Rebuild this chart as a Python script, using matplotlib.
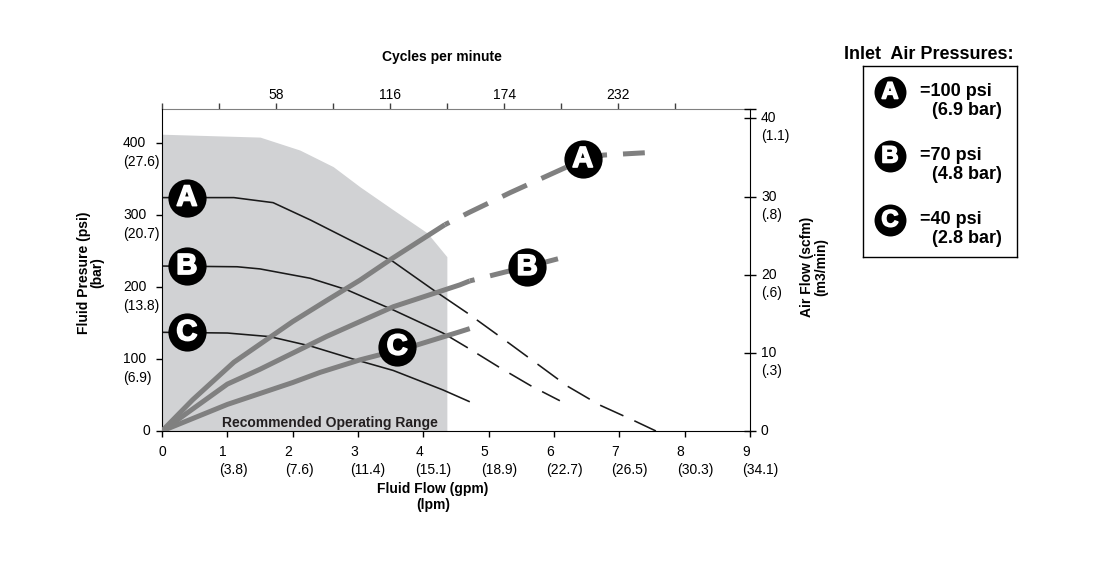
import matplotlib
matplotlib.use('Agg')
import matplotlib.pyplot as plt
import matplotlib.transforms as mtransforms
import matplotlib.patheffects as pe

plt.rcParams['font.family'] = ['Liberation Sans', 'DejaVu Sans']

# fluid pressure curves (psi) vs fluid flow (gpm); dashed past *_solid_to
psi_a_gpm = [0, 1.1, 1.7, 2.27, 2.88, 3.54, 4.15, 4.67, 5.28, 5.76, 6.21, 6.70, 7.21, 7.56]
psi_a = [324, 324, 317, 293, 265, 235, 196, 164, 124, 92, 62, 36, 15, 0]
psi_a_solid_to = 4.67
psi_b_gpm = [0, 1.15, 1.5, 2.27, 2.83, 3.54, 4.3, 4.67, 5.17, 5.66, 6.09]
psi_b = [229, 228, 225, 212, 196, 168, 136, 116, 88, 62, 42]
psi_b_solid_to = 4.67
psi_c_gpm = [0, 1.0, 1.65, 2.27, 2.92, 3.54, 4.3, 4.7]
psi_c = [137, 136, 131, 118, 100, 84, 57, 41]
psi_c_solid_to = 4.7

# air consumption curves (scfm) vs fluid flow (gpm)
air_a_gpm = [0, 0.47, 1.1, 2.0, 2.52, 3.03, 3.49, 4.33, 4.71, 5.33, 5.83, 6.2, 6.75, 7.39]
air_a = [0, 4.0, 8.8, 14.0, 16.7, 19.3, 21.9, 26.4, 28.0, 30.5, 32.4, 33.8, 35.3, 35.6]
air_a_solid_to = 4.33
air_b_gpm = [0, 1.0, 1.5, 2.52, 3.54, 4.56, 4.71, 5.28, 5.59, 6.09]
air_b = [0, 6.0, 7.9, 12.1, 15.9, 18.7, 19.2, 20.4, 21.0, 22.1]
air_b_solid_to = 4.71
air_c_gpm = [0, 1.0, 2.0, 2.42, 3.03, 3.54, 3.9, 4.56, 4.71]
air_c = [0, 3.4, 6.2, 7.5, 9.1, 10.2, 11.0, 12.7, 13.1]
air_c_solid_to = 4.71

# recommended operating range (upper edge)
range_gpm = [0, 1.5, 2.11, 2.62, 3.03, 3.54, 4.06, 4.36]
range_psi = [412, 408, 390, 367, 339, 307, 275, 242]

# curve badges
letters = ['A', 'B', 'C']
psi_badge_gpm = [0.38, 0.38, 0.38]
psi_badge_val = [324, 229, 137]
air_badge_gpm = [6.44, 5.59, 3.6]
air_badge_val = [34.8, 21.0, 10.8]

# inlet air pressures
inlet_psi = [100, 70, 40]
inlet_bar = [6.9, 4.8, 2.8]

# axes ticks
gpm_ticks = [0, 1, 2, 3, 4, 5, 6, 7, 8, 9]
lpm_labels = ['', '(3.8)', '(7.6)', '(11.4)', '(15.1)', '(18.9)', '(22.7)', '(26.5)', '(30.3)', '(34.1)']
psi_ticks = [0, 100, 200, 300, 400]
bar_labels = ['', '(6.9)', '(13.8)', '(20.7)', '(27.6)']
scfm_ticks = [0, 10, 20, 30, 40]
m3_labels = ['', '(.3)', '(.6)', '(.8)', '(1.1)']
cycle_ticks = [0, 29, 58, 87, 116, 145, 174, 203, 232, 261]
cycle_labels = ['', '', '58', '', '116', '', '174', '', '232', '']
cycles_per_gpm = 299.0 / 9

GREY = '#808080'
REGION = '#d1d2d4'

fig = plt.figure(figsize=(11.06, 5.71), dpi=100)
ax = fig.add_axes([0.1465, 0.2452, 0.5316, 0.5639])
ax_r = ax.twinx()
ax.set_xlim(0, 9)
ax.set_ylim(0, 447)
ax_r.set_ylim(0, 41.2)


def split(xs, ys, x_end):
    solid = [(x, y) for x, y in zip(xs, ys) if x <= x_end]
    dashed = [(x, y) for x, y in zip(xs, ys) if x >= x_end]
    return list(zip(*solid)), (list(zip(*dashed)) if len(dashed) > 1 else None)


ax.fill_between(range_gpm, range_psi, 0, color=REGION, lw=0, zorder=1)
ax.text(2.57, 11, 'Recommended Operating Range', ha='center', va='center',
        fontsize=10, fontweight='bold', color='#231f20', zorder=3)

for xs, ys, end in [(psi_a_gpm, psi_a, psi_a_solid_to),
                    (psi_b_gpm, psi_b, psi_b_solid_to),
                    (psi_c_gpm, psi_c, psi_c_solid_to)]:
    solid, dashed = split(xs, ys, end)
    ax.plot(solid[0], solid[1], color='#1a1a1a', lw=1.15, zorder=2)
    if dashed:
        ax.plot(dashed[0], dashed[1], color='#1a1a1a', lw=1.15, zorder=2,
                linestyle=(16, (16, 7.5)))

for xs, ys, end in [(air_a_gpm, air_a, air_a_solid_to),
                    (air_b_gpm, air_b, air_b_solid_to),
                    (air_c_gpm, air_c, air_c_solid_to)]:
    solid, dashed = split(xs, ys, end)
    ax_r.plot(solid[0], solid[1], color=GREY, lw=3.6, zorder=2,
              solid_capstyle='butt')
    if dashed:
        ax_r.plot(dashed[0], dashed[1], color=GREY, lw=3.6, zorder=2,
                  linestyle=(4.4, (5.4, 3.2)), dash_capstyle='butt')


def badge(axis, x, y, letter, ms=27.5, fs=21):
    axis.plot(x, y, 'o', ms=ms, color='black', mew=0, zorder=5, clip_on=False)
    axis.text(x, y, letter, color='white', fontsize=fs, fontweight='bold',
              ha='center', va='center', zorder=6,
              path_effects=[pe.withStroke(linewidth=1.2, foreground='white')])


for x, y, l in zip(psi_badge_gpm, psi_badge_val, letters):
    badge(ax, x, y, l)
for x, y, l in zip(air_badge_gpm, air_badge_val, letters):
    badge(ax_r, x, y, l)

# spines and ticks
for s in ['top', 'right']:
    ax.spines[s].set_visible(False)
for s in ['top', 'left', 'bottom']:
    ax_r.spines[s].set_visible(False)
ax.set_xticks(gpm_ticks)
ax.set_yticks(psi_ticks)
ax.tick_params(direction='out', length=4, width=1, labelbottom=False, labelleft=False)
ax_r.set_yticks(scfm_ticks)
ax_r.set_yticks([41.2], minor=True)
ax_r.tick_params(axis='y', which='both', direction='inout', length=8, width=1,
                 labelright=False)

sec = ax.secondary_xaxis('top', functions=(lambda g: g * cycles_per_gpm,
                                           lambda c: c / cycles_per_gpm))
sec.set_xticks(cycle_ticks, cycle_labels)
sec.spines['top'].set_color(GREY)
sec.tick_params(direction='out', length=4, width=1, pad=1, labelsize=10,
                color='#404040')

# tick labels with the metric value underneath
def off(trans, dx, dy):
    return mtransforms.offset_copy(trans, fig=fig, x=dx, y=dy, units='dots')


ytr = ax.get_yaxis_transform()
for v, bar in zip(psi_ticks, bar_labels):
    if bar:
        ax.text(0, v, str(v), transform=off(ytr, -39, 0), ha='left', va='center', fontsize=10)
        ax.text(0, v, bar, transform=off(ytr, -39, -19), ha='left', va='center', fontsize=10)
    else:
        ax.text(0, v, str(v), transform=off(ytr, -12, 0), ha='right', va='center', fontsize=10)

rtr = ax_r.get_yaxis_transform()
for v, m3 in zip(scfm_ticks, m3_labels):
    ax_r.text(1, v, str(v), transform=off(rtr, 11, 0), ha='left', va='center', fontsize=10)
    if m3:
        ax_r.text(1, v, m3, transform=off(rtr, 11, -18), ha='left', va='center', fontsize=10)

xtr = ax.get_xaxis_transform()
for g, lpm in zip(gpm_ticks, lpm_labels):
    if lpm:
        ax.text(g, 0, str(g), transform=off(xtr, -8, -21), ha='left', va='center', fontsize=10)
        ax.text(g, 0, lpm, transform=off(xtr, -8, -39), ha='left', va='center', fontsize=10)
    else:
        ax.text(g, 0, str(g), transform=off(xtr, 0, -21), ha='center', va='center', fontsize=10)

# axis titles
ax.text(0.476, 1.1615, 'Cycles per minute', transform=ax.transAxes,
        ha='center', va='center', fontsize=10, fontweight='bold')
ax.text(0.461, -0.205, 'Fluid Flow (gpm)\n(lpm)', transform=ax.transAxes,
        ha='center', va='center', fontsize=10, fontweight='bold', linespacing=1.15)
ax.text(-0.1216, 0.491, 'Fluid Presure (psi)\n(bar)', transform=ax.transAxes,
        ha='center', va='center', rotation=90, fontsize=10, fontweight='bold',
        linespacing=1.0)
ax.text(1.109, 0.509, 'Air Flow (scfm)\n(m3/min)', transform=ax.transAxes,
        ha='center', va='center', rotation=90, fontsize=10, fontweight='bold',
        linespacing=1.0)

# inlet air pressure key
fig.text(0.763, 0.9037, 'Inlet  Air Pressures:', ha='left', va='center',
         fontsize=13, fontweight='bold')
key = fig.add_axes([0.7803, 0.5499, 0.1392, 0.3345])
key.set_xlim(0, 1)
key.set_ylim(0, 1)
key.set_xticks([])
key.set_yticks([])
for s in key.spines.values():
    s.set_linewidth(1)
for i, (l, p, b) in enumerate(zip(letters, inlet_psi, inlet_bar)):
    y = 0.864 - 0.335 * i
    badge(key, 0.175, y, l, ms=23, fs=17)
    key.text(0.37, y, f'={p} psi', ha='left', va='center', fontsize=13, fontweight='bold')
    key.text(0.448, y - 0.0995, f'({b} bar)', ha='left', va='center', fontsize=13,
             fontweight='bold')

plt.savefig('out.png', dpi=100)
